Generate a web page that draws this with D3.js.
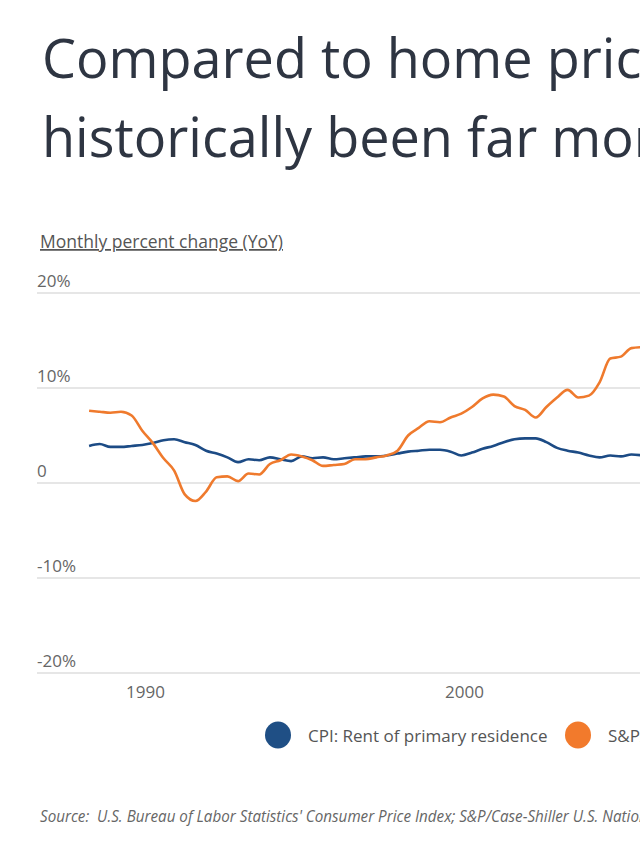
<!DOCTYPE html>
<html>
<head>
<meta charset="utf-8">
<script src="https://cdn.jsdelivr.net/npm/d3@7"></script>
<style>
  html, body { margin: 0; padding: 0; background: #fff; overflow: hidden; }
  svg { display: block; }
  text { font-family: "Open Sans", "Noto Sans", sans-serif; }
</style>
</head>
<body>
<svg id="chart" width="640" height="853"></svg>
<script>
// ---- Data (4-month steps) ----
const months = ["1988-04","1988-08","1988-12","1989-04","1989-08","1989-12",
  "1990-04","1990-08","1990-12","1991-04","1991-08","1991-12",
  "1992-04","1992-08","1992-12","1993-04","1993-08","1993-12",
  "1994-04","1994-08","1994-12","1995-04","1995-08","1995-12",
  "1996-04","1996-08","1996-12","1997-04","1997-08","1997-12",
  "1998-04","1998-08","1998-12","1999-04","1999-08","1999-12",
  "2000-04","2000-08","2000-12","2001-04","2001-08","2001-12",
  "2002-04","2002-08","2002-12","2003-04","2003-08","2003-12",
  "2004-04","2004-08","2004-12","2005-04","2005-08"];
const rentCPI = [3.9,4.1,3.8,3.8,3.9,4.0,
  4.2,4.5,4.6,4.3,4.0,3.4,
  3.1,2.7,2.2,2.5,2.4,2.7,
  2.5,2.3,2.8,2.6,2.7,2.5,
  2.6,2.7,2.8,2.8,2.9,3.1,
  3.3,3.4,3.5,3.5,3.3,2.9,
  3.2,3.6,3.9,4.3,4.6,4.7,
  4.7,4.3,3.7,3.4,3.2,2.9,
  2.7,2.9,2.8,3.0,2.9];
const caseShiller = [7.6,7.5,7.4,7.5,7.1,5.5,
  4.2,2.6,1.3,-1.2,-1.9,-0.9,
  0.6,0.7,0.2,1.0,0.9,2.0,
  2.4,3.0,2.8,2.4,1.8,1.9,
  2.0,2.5,2.5,2.7,2.9,3.4,
  5.0,5.8,6.5,6.4,6.9,7.3,
  8.0,8.9,9.3,9.1,8.1,7.7,
  6.9,8.0,9.0,9.8,9.0,9.2,
  10.6,13.1,13.3,14.2,14.3];
const yTicks = [20, 10, 0, -10, -20];
const yTickLabels = ["20%", "10%", "0", "-10%", "-20%"];
const xTickYears = [1990, 2000];
const seriesNames = ["CPI: Rent of primary residence", "S&P/Case-Shiller U.S. National Home Price Index"];
const seriesColors = ["#1c4b85", "#ef7a2d"];
const legendColors = ["#1f4f85", "#f27a2c"];

// ---- Chart ----
const svg = d3.select("#chart");
const parse = d3.timeParse("%Y-%m");
const dates = months.map(parse);

const x = d3.scaleTime()
  .domain([new Date(1990, 0, 1), new Date(2000, 0, 1)])
  .range([145, 464]);
const y = d3.scaleLinear().domain([-20, 20]).range([673, 293]);

// Title
const title = svg.append("text")
  .attr("x", 42).attr("y", 78)
  .attr("fill", "#2e3542")
  .style("font-size", "54px")
  .style("font-weight", 400);
title.append("tspan").attr("x", 42).attr("y", 78).text("Compared to home prices, rent has");
title.append("tspan").attr("x", 42).attr("y", 157).text("historically been far more stable");

// Axis title
svg.append("text")
  .attr("x", 40).attr("y", 248)
  .attr("fill", "#555")
  .style("font-size", "17.5px")
  .style("text-decoration", "underline")
  .text("Monthly percent change (YoY)");

// Gridlines and y labels
const grid = svg.append("g");
grid.selectAll("line").data(yTicks).join("line")
  .attr("x1", 37).attr("x2", 1200)
  .attr("y1", d => y(d)).attr("y2", d => y(d))
  .attr("stroke", "#dedede").attr("stroke-width", 1.5);
grid.selectAll("text").data(yTicks).join("text")
  .attr("x", 37).attr("y", d => y(d) - 6)
  .attr("fill", "#666")
  .style("font-size", "17px")
  .text((d, i) => yTickLabels[i]);

// X axis
const xAxis = d3.axisBottom(x)
  .tickValues(xTickYears.map(yr => new Date(yr, 0, 1)))
  .tickFormat(d3.timeFormat("%Y"))
  .tickSize(0).tickPadding(0);
const gx = svg.append("g").attr("transform", "translate(0,686)").call(xAxis);
gx.select(".domain").remove();
gx.selectAll("text")
  .attr("fill", "#666")
  .style("font-size", "17px")
  .style("font-family", "'Open Sans', sans-serif");

// Lines
const lineGen = vals => d3.line()
  .x((d, i) => x(dates[i]))
  .y(d => y(d))
  .curve(d3.curveMonotoneX)(vals);

svg.append("path")
  .attr("d", lineGen(rentCPI))
  .attr("fill", "none").attr("stroke", seriesColors[0])
  .attr("stroke-width", 2.6).attr("stroke-linejoin", "round");
svg.append("path")
  .attr("d", lineGen(caseShiller))
  .attr("fill", "none").attr("stroke", seriesColors[1])
  .attr("stroke-width", 2.6).attr("stroke-linejoin", "round");

// Legend
const legendX = [278, 578];
const lg = svg.append("g");
seriesNames.forEach((name, i) => {
  lg.append("ellipse")
    .attr("cx", legendX[i]).attr("cy", 735)
    .attr("rx", 13).attr("ry", 13.5)
    .attr("fill", legendColors[i]);
  lg.append("text")
    .attr("x", legendX[i] + 30).attr("y", 742)
    .attr("fill", "#555")
    .style("font-size", "17px")
    .text(name);
});

// Source
svg.append("text")
  .attr("transform", "translate(40,822) scale(0.95,1)")
  .attr("fill", "#666")
  .style("font-size", "16px")
  .style("font-style", "italic")
  .style("white-space", "pre")
  .text("Source:  U.S. Bureau of Labor Statistics' Consumer Price Index; S&P/Case-Shiller U.S. National Home Price Index");
</script>
</body>
</html>
